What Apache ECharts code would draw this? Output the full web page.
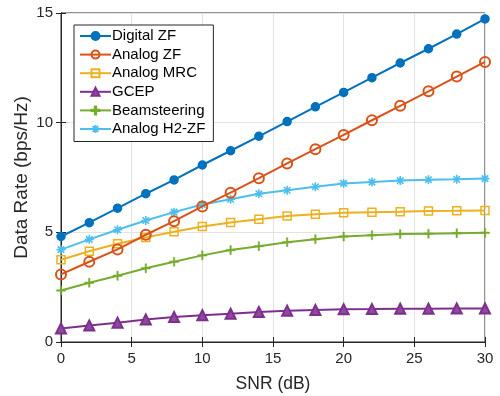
<!DOCTYPE html>
<html><head><meta charset="utf-8">
<script src="https://cdn.jsdelivr.net/npm/echarts@6/dist/echarts.min.js"></script>
<style>html,body{margin:0;padding:0;background:#fff}#c{width:500px;height:396px}</style>
</head><body><div id="c"></div>
<script>
const snr = [0,2,4,6,8,10,12,14,16,18,20,22,24,26,28,30];
const digitalZF = [4.81,5.44,6.10,6.76,7.39,8.07,8.72,9.38,10.05,10.72,11.38,12.05,12.72,13.37,14.04,14.73];
const analogZF  = [3.08,3.66,4.22,4.89,5.51,6.18,6.81,7.47,8.14,8.79,9.44,10.11,10.77,11.43,12.10,12.77];
const analogMRC = [3.75,4.14,4.48,4.77,5.03,5.27,5.45,5.60,5.74,5.83,5.89,5.92,5.94,5.97,5.98,6.00];
const gcep      = [0.62,0.75,0.88,1.03,1.14,1.22,1.29,1.37,1.43,1.46,1.49,1.50,1.52,1.52,1.53,1.53];
const beamsteer = [2.35,2.70,3.02,3.36,3.66,3.95,4.19,4.37,4.55,4.69,4.81,4.87,4.92,4.94,4.96,4.98];
const analogH2  = [4.21,4.68,5.12,5.54,5.92,6.27,6.51,6.76,6.92,7.08,7.23,7.29,7.36,7.40,7.42,7.45];
const names = ['Digital ZF','Analog ZF','Analog MRC','GCEP','Beamsteering','Analog H2-ZF'];
const yTicks = [0,5,10,15];
const xTicks = [0,5,10,15,20,25,30];

const colors = ['#0072BD','#D95319','#EDB120','#7E2F8E','#77AC30','#4DBEEE'];
const FONT = 'Liberation Sans, Arial, Helvetica, sans-serif';
const plusPath = 'path://M-0.8,-5 H0.8 V-0.8 H5 V0.8 H0.8 V5 H-0.8 V0.8 H-5 V-0.8 H-0.8 Z';
const starPath = 'path://M0,-5 L0,5 M-5,0 L5,0 M-3.6,-3.6 L3.6,3.6 M-3.6,3.6 L3.6,-3.6';

function pairs(arr){ return snr.map((x,i)=>[x,arr[i]]); }
const seriesData = [digitalZF, analogZF, analogMRC, gcep, beamsteer, analogH2];
const symbols = ['circle','circle','rect','triangle',plusPath,starPath];
const sizes = [8,10,8,10,9,9];

const series = seriesData.map((d,i)=>{
  const s = {
    name: names[i], type:'line', data: pairs(d),
    symbol: symbols[i], symbolSize: sizes[i],
    lineStyle:{color:colors[i], width:2},
    itemStyle:{color:colors[i], borderColor:colors[i], borderWidth:1.5},
    showAllSymbol:true, animation:false, z: 10-i
  };
  if (i===1 || i===2) s.itemStyle.color = 'rgba(255,255,255,0)';
  if (i===1) s.itemStyle.borderWidth = 2;
  if (i===3) { s.itemStyle.color = '#8e4a9c'; s.itemStyle.borderWidth = 2; }
  if (i===4) { s.itemStyle.borderWidth = 0.5; }
  if (i===5) { s.itemStyle.color = 'rgba(0,0,0,0)'; s.itemStyle.borderWidth = 1.6; }
  return s;
});

const chart = echarts.init(document.getElementById('c'), null, {renderer:'canvas'});
chart.setOption({
  animation:false,
  textStyle:{fontFamily:FONT},
  grid:{left:61,right:15,top:13,bottom:54,containLabel:false,outerBoundsMode:'none',show:true,borderColor:'#262626',borderWidth:1,backgroundColor:'#fff'},
  legend:{
    orient:'vertical', left:74, top:25, data:names,
    itemWidth:31, itemHeight:10, itemGap:3.6,
    backgroundColor:'#fff', borderColor:'#262626', borderWidth:1,
    padding:[3.5,8,5,5],
    textStyle:{fontSize:15, lineHeight:15, color:'#000', fontFamily:FONT, padding:[0,0,0,-4]}
  },
  xAxis:[{
    type:'value', min:0, max:30, interval:5,
    name:'SNR (dB)', nameLocation:'middle', nameGap:33, nameMoveOverlap:false,
    nameTextStyle:{fontSize:17.5, color:'#262626', fontFamily:FONT},
    axisLine:{show:true, lineStyle:{color:'#262626'}},
    axisTick:{show:true, inside:true, length:5, lineStyle:{color:'#262626'}},
    axisLabel:{fontSize:15, color:'#262626', margin:9, fontFamily:FONT},
    splitLine:{show:true, lineStyle:{color:'#e3e3e3', width:1}}
  },{
    type:'value', min:0, max:30, interval:5, position:'top',
    axisLine:{show:true, lineStyle:{color:'#262626'}},
    axisTick:{show:true, inside:true, length:5, lineStyle:{color:'#262626'}},
    axisLabel:{show:false}, splitLine:{show:false}
  }],
  yAxis:[{
    type:'value', min:0, max:15, interval:5,
    name:'Data Rate (bps/Hz)', nameLocation:'middle', nameGap:29.5, nameMoveOverlap:false,
    nameTextStyle:{fontSize:19, color:'#262626', fontFamily:FONT},
    axisLine:{show:true, lineStyle:{color:'#262626'}},
    axisTick:{show:true, inside:true, length:5, lineStyle:{color:'#262626'}},
    axisLabel:{fontSize:15, color:'#262626', margin:8, fontFamily:FONT},
    splitLine:{show:true, lineStyle:{color:'#e3e3e3', width:1}}
  },{
    type:'value', min:0, max:15, interval:5, position:'right',
    axisLine:{show:true, lineStyle:{color:'#262626'}},
    axisTick:{show:true, inside:true, length:5, lineStyle:{color:'#262626'}},
    axisLabel:{show:false}, splitLine:{show:false}
  }],
  series: series
});
</script></body></html>
